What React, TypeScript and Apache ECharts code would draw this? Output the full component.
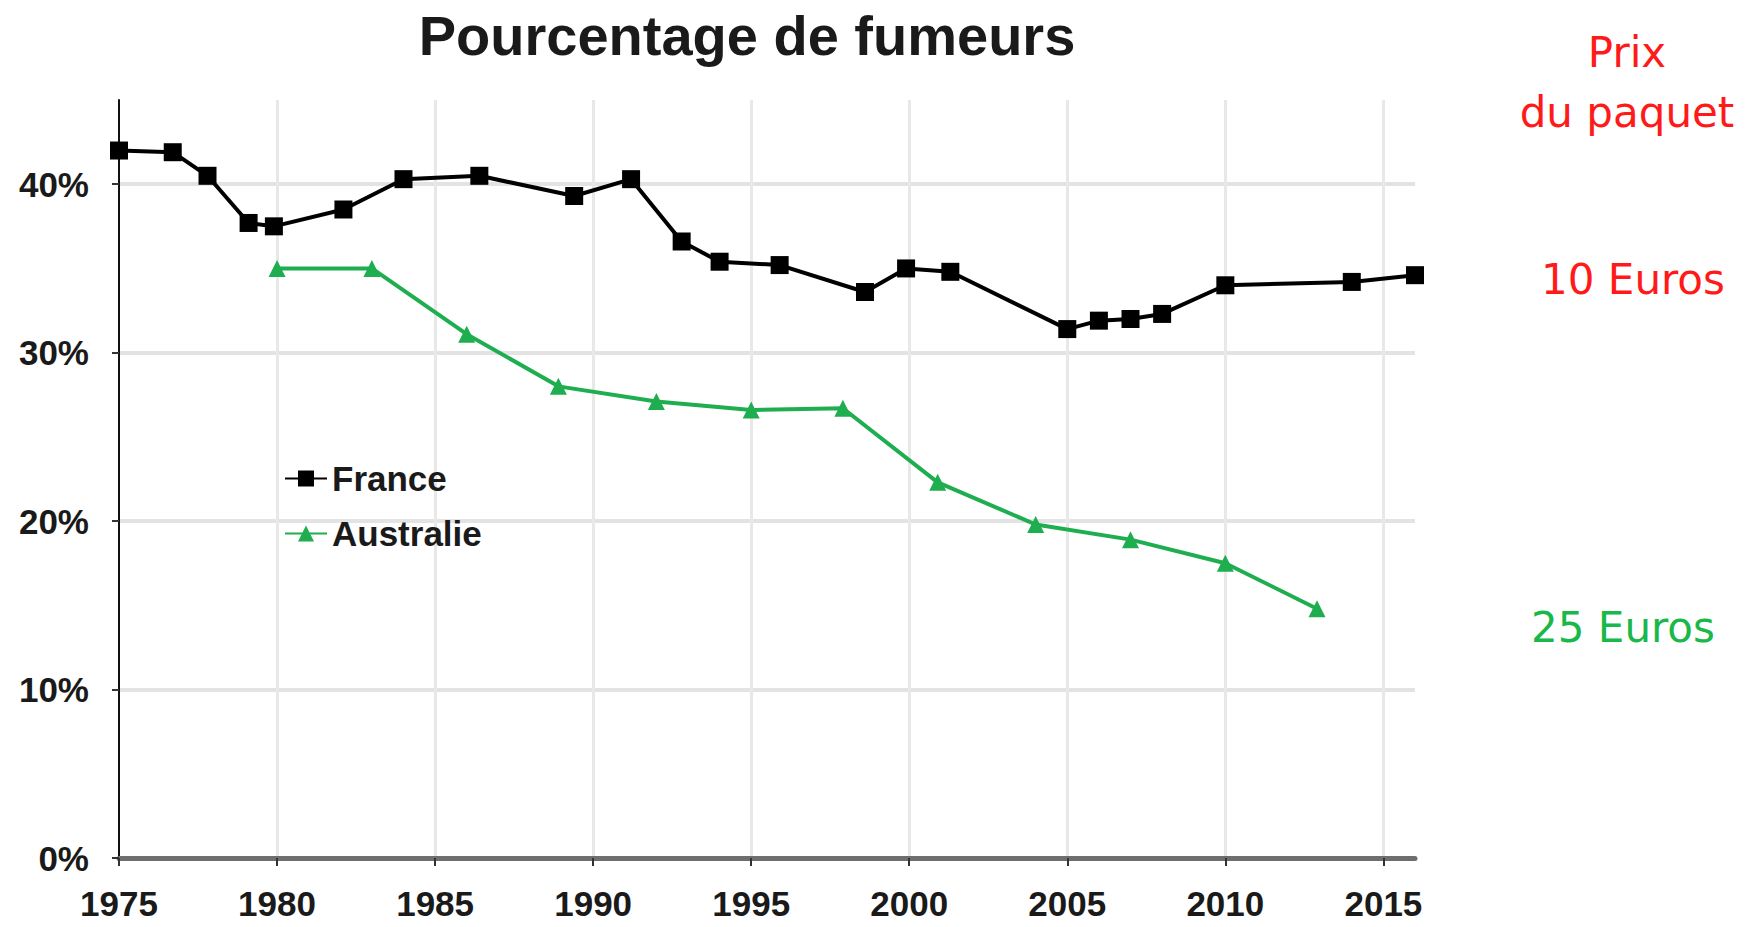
import React, { useEffect, useRef } from "react";
import * as echarts from "echarts";

const franceYears = [1975, 1976.7, 1977.8, 1979.1, 1979.9, 1982.1, 1984, 1986.4, 1989.4, 1991.2, 1992.8, 1994, 1995.9, 1998.6, 1999.9, 2001.3, 2005, 2006, 2007, 2008, 2010, 2014, 2016];
const franceValues = [42.0, 41.9, 40.5, 37.7, 37.5, 38.5, 40.3, 40.5, 39.3, 40.3, 36.6, 35.4, 35.2, 33.6, 35.0, 34.8, 31.4, 31.9, 32.0, 32.3, 34.0, 34.2, 34.6];

const australiaYears = [1980, 1983, 1986, 1988.9, 1992, 1995, 1997.9, 2000.9, 2004, 2007, 2010, 2012.9];
const australiaValues = [35.0, 35.0, 31.1, 28.0, 27.1, 26.6, 26.7, 22.3, 19.8, 18.9, 17.5, 14.8];

const title = "Pourcentage de fumeurs";
const priceLabel = ["Prix", "du paquet"];
const franceLabel = "10 Euros";
const australiaLabel = "25 Euros";

export default function App() {
  const ref = useRef<HTMLDivElement>(null);
  useEffect(() => {
    if (!ref.current) return;
    const chart = echarts.init(ref.current, null, { renderer: "svg" });
    const font = "'Liberation Sans', Arial, sans-serif";
    const handFont = "'DejaVu Sans', sans-serif";
    chart.setOption({
      animation: false,
      backgroundColor: "#ffffff",
      title: {
        text: title,
        left: 742,
        top: 2,
        textAlign: "center",
        textStyle: { fontFamily: font, fontWeight: "bold", fontSize: 56, color: "#1a1a1a" },
      },
      legend: {
        orient: "vertical",
        left: 279,
        top: 456,
        itemWidth: 42,
        itemHeight: 20,
        itemGap: 20,
        textStyle: { fontFamily: font, fontWeight: "bold", fontSize: 35, color: "#1a1a1a" },
        data: ["France", "Australie"],
      },
      grid: { left: 119, right: 335, top: 100, bottom: 69, containLabel: false },
      xAxis: {
        type: "value",
        min: 1975,
        max: 2016,
        interval: 5,
        axisLine: { show: true, lineStyle: { color: "#6e6e6e", width: 5 } },
        axisTick: { show: true, length: 8, lineStyle: { color: "#333", width: 2 } },
        axisLabel: {
          showMaxLabel: false,
          margin: 28,
          fontFamily: font,
          fontWeight: "bold",
          fontSize: 35,
          color: "#1a1a1a",
          formatter: (v: number) => String(v),
        },
        splitLine: { show: true, showMinLine: false, showMaxLine: false, lineStyle: { color: "#e8e8e8", width: 3 } },
      },
      yAxis: {
        type: "value",
        min: 0,
        max: 45,
        interval: 10,
        axisLine: { show: true, lineStyle: { color: "#111", width: 2 } },
        axisTick: { show: true, length: 7, lineStyle: { color: "#333", width: 2 } },
        axisLabel: {
          showMaxLabel: false,
          margin: 30,
          fontFamily: font,
          fontWeight: "bold",
          fontSize: 35,
          color: "#1a1a1a",
          formatter: (v: number) => (v > 44 ? "" : v + "%"),
        },
        splitLine: { show: true, showMinLine: false, showMaxLine: false, lineStyle: { color: "#e3e3e3", width: 4 } },
      },
      series: [
        {
          name: "France",
          type: "line",
          data: franceYears.map((y, i) => [y, franceValues[i]]),
          symbol: "rect",
          symbolSize: 18,
          lineStyle: { color: "#000", width: 4 },
          itemStyle: { color: "#000" },
          z: 3,
        },
        {
          name: "Australie",
          type: "line",
          data: australiaYears.map((y, i) => [y, australiaValues[i]]),
          symbol: "triangle",
          symbolSize: 17,
          lineStyle: { color: "#1fae4f", width: 4 },
          itemStyle: { color: "#1fae4f" },
          z: 3,
        },
      ],
      graphic: [
        { type: "text", x: 1627, y: 52, style: { text: priceLabel[0], font: `42px ${handFont}`, fill: "#ff1a1a", textAlign: "center", textVerticalAlign: "middle" }, z: 10 },
        { type: "text", x: 1627, y: 112, style: { text: priceLabel[1], font: `42px ${handFont}`, fill: "#ff1a1a", textAlign: "center", textVerticalAlign: "middle" }, z: 10 },
        { type: "text", x: 1633, y: 279, style: { text: franceLabel, font: `42px ${handFont}`, fill: "#ff1a1a", textAlign: "center", textVerticalAlign: "middle" }, z: 10 },
        { type: "text", x: 1623, y: 627, style: { text: australiaLabel, font: `42px ${handFont}`, fill: "#19b84a", textAlign: "center", textVerticalAlign: "middle" }, z: 10 },
      ],
    });
    return () => chart.dispose();
  }, []);
  return <div ref={ref} style={{ position: "fixed", left: 0, top: 0, width: 1750, height: 927 }} />;
}
